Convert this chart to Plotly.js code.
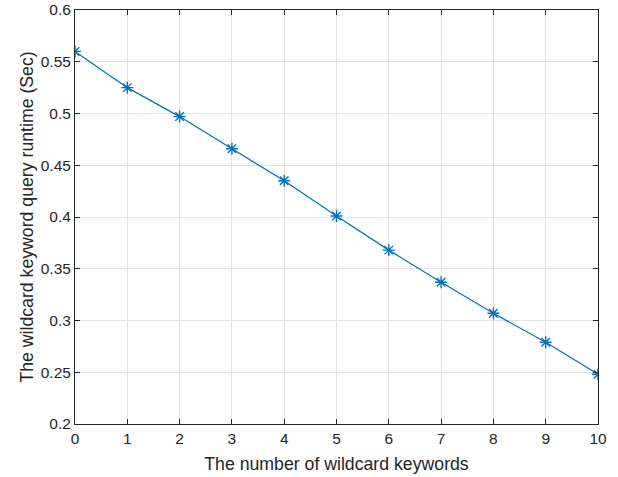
<!DOCTYPE html>
<html><head><meta charset="utf-8">
<script src="https://cdn.plot.ly/plotly-3.0.1.min.js"></script>
<style>html,body{margin:0;padding:0;background:#fff}#c{width:618px;height:477px}</style>
</head><body><div id="c"></div>
<script>
const keywords = [0,1,2,3,4,5,6,7,8,9,10];
const runtime = [0.560,0.525,0.497,0.466,0.435,0.401,0.368,0.337,0.307,0.279,0.248];
const xTicks = [0,1,2,3,4,5,6,7,8,9,10];
const yTicks = [0.2,0.25,0.3,0.35,0.4,0.45,0.5,0.55,0.6];
const yTickText = ['0.2','0.25','0.3','0.35','0.4','0.45','0.5','0.55','0.6'];
const blue = '#0072BD';
const font = 'Arial, Liberation Sans, sans-serif';
function axisCommon(sz){
  return {
    showline:true, mirror:'ticks', linecolor:'#262626', linewidth:1,
    ticks:'inside', ticklen:5, tickcolor:'#262626',
    showgrid:true, gridcolor:'#e3e3e3', gridwidth:1, zeroline:false,
    tickfont:{family:font, size:sz, color:'#262626'}
  };
}
const xa = axisCommon(15.5);
xa.range=[0,10]; xa.tickmode='array'; xa.tickvals=xTicks;
xa.title={text:'The number of wildcard keywords',standoff:12,font:{family:font,size:17.7,color:'#262626'}};
const ya = axisCommon(15.5);
ya.range=[0.2,0.6]; ya.tickmode='array'; ya.tickvals=yTicks; ya.ticktext=yTickText;
ya.title={text:'The wildcard keyword query runtime (Sec)',standoff:2,font:{family:font,size:17.7,color:'#262626'}};
Plotly.newPlot('c',[{
  x:keywords, y:runtime, type:'scatter', mode:'lines+markers',
  line:{color:blue,width:1.2},
  marker:{symbol:'asterisk-open',size:10,color:blue,line:{color:blue,width:1.4}}
}],{
  width:618,height:477,
  margin:{l:75,r:20,t:10,b:53},
  paper_bgcolor:'#fff',plot_bgcolor:'#fff',showlegend:false,
  font:{family:font,size:15.5,color:'#262626'},
  xaxis:xa, yaxis:ya
},{staticPlot:true});
</script></body></html>
